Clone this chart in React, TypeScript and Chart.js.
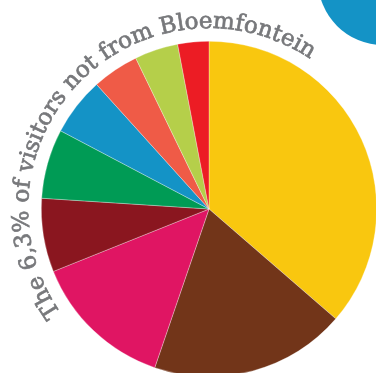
import React, { useEffect, useRef } from "react";
import { Chart, registerables } from "chart.js";

Chart.register(...registerables);

const categories = ["Group 1", "Group 2", "Group 3", "Group 4", "Group 5", "Group 6", "Group 7", "Group 8", "Group 9"];
const shares = [36.4, 18.9, 13.7, 7.1, 6.7, 5.6, 4.5, 4.2, 3.0];
const colors = ["#F9C70F", "#723519", "#E01563", "#8A161F", "#009B55", "#1493C6", "#EF5B47", "#B5CF4A", "#EC1C24"];
const title = "The 6,3% of visitors not from Bloemfontein";

const decorPlugin = {
  id: "decor",
  afterDraw(chart: any) {
    const ctx = chart.ctx as CanvasRenderingContext2D;
    const arc = chart.getDatasetMeta(0).data[0];
    const cx = arc.x;
    const cy = arc.y;
    ctx.save();
    // blue circle top-right
    ctx.fillStyle = "#1493C6";
    ctx.beginPath();
    ctx.arc(383, -20, 65, 0, Math.PI * 2);
    ctx.fill();
    // curved text
    ctx.fillStyle = "#77787b";
    ctx.strokeStyle = "#77787b";
    ctx.lineWidth = 0.7;
    ctx.font = "23px 'DejaVu Serif'";
    ctx.textAlign = "center";
    ctx.textBaseline = "alphabetic";
    const r = 181;
    const widths = Array.from(title).map((c) => ctx.measureText(c).width);
    const total = widths.reduce((a, b) => a + b, 0);
    const mid = (314.5 * Math.PI) / 180;
    let a = mid - total / 2 / r;
    Array.from(title).forEach((c, i) => {
      const w = widths[i];
      const th = a + w / 2 / r;
      ctx.save();
      ctx.translate(cx + r * Math.sin(th), cy - r * Math.cos(th));
      ctx.rotate(th);
      ctx.fillText(c, 0, 0);
      ctx.strokeText(c, 0, 0);
      ctx.restore();
      a += w / r;
    });
    ctx.restore();
  },
};

export default function App() {
  const ref = useRef<HTMLCanvasElement>(null);
  useEffect(() => {
    document.body.style.margin = "0";
    const chart = new Chart(ref.current!, {
      type: "pie",
      data: {
        labels: categories,
        datasets: [
          {
            data: shares,
            backgroundColor: colors,
            borderColor: "rgba(255,255,255,0.5)",
            borderWidth: 0.6,
          },
        ],
      },
      options: {
        animation: false,
        responsive: false,
        layout: { padding: { left: 41, top: 41, right: 43, bottom: 43 } },
        plugins: { legend: { display: false }, tooltip: { enabled: false } },
      },
      plugins: [decorPlugin],
    });
    return () => chart.destroy();
  }, []);
  return (
    <div style={{ width: 376, height: 373, overflow: "hidden", position: "relative", background: "#fff" }}>
      <canvas ref={ref} width={420} height={420} style={{ display: "block" }} />
    </div>
  );
}
